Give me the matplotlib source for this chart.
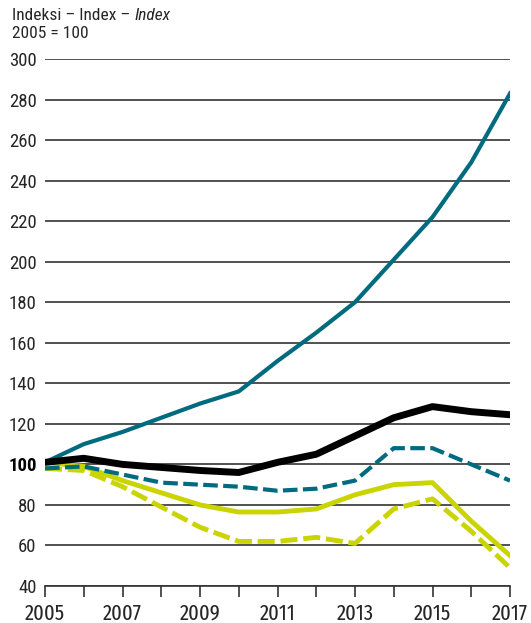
import matplotlib.pyplot as plt

years = list(range(2005, 2018))
teal_solid = [101, 110, 116, 123, 130, 136, 151, 165, 180, 201, 222, 249, 283]
black_solid = [101, 103, 100, 98.5, 97, 96, 101, 105, 114, 123, 128.5, 126, 124.5]
teal_dashed = [98, 99, 95, 91, 90, 89, 87, 88, 92, 108, 108, 100, 92]
yellow_solid = [101, 99, 92, 86, 80, 76.5, 76.5, 78, 85, 90, 91, 72, 55]
yellow_dashed = [98, 97, 89, 79, 69, 62, 62, 64, 61, 78, 83, 67, 49]

y_ticks = list(range(40, 301, 20))
x_labels = list(range(2005, 2018, 2))

TEAL = "#006b7f"
YELLOW = "#c9d400"
TEXT = "#262626"

plt.rcParams["font.family"] = ["Roboto Condensed", "DejaVu Sans"]

fig = plt.figure(figsize=(5.31, 6.23), dpi=100)
ax = fig.add_axes([45 / 531, 1 - 586 / 623, 465 / 531, (586 - 59) / 623])

for y in y_ticks:
    ax.axhline(y, color="#333333", lw=1.2, zorder=1)

ax.plot(years, yellow_dashed, color=YELLOW, lw=3.5, ls=(0, (3.5, 1.2)), zorder=3)
ax.plot(years, yellow_solid, color=YELLOW, lw=3.5, zorder=3)
ax.plot(years, teal_dashed, color=TEAL, lw=3, ls=(0, (3.5, 1.3)), zorder=4)
ax.plot(years, teal_solid, color=TEAL, lw=3, zorder=4)
ax.plot(years, black_solid, color="black", lw=5, zorder=5)

ax.set_xlim(2005, 2017)
ax.set_ylim(40, 300)
ax.set_yticks(y_ticks)
ax.set_xticks(years)
ax.set_xticklabels([str(y) if y in x_labels else "" for y in years],
                   family=["Fira Sans Extra Condensed", "Roboto Condensed", "DejaVu Sans"])
for s in ["top", "right", "left"]:
    ax.spines[s].set_visible(False)
ax.spines["bottom"].set_color("#333333")
ax.spines["bottom"].set_linewidth(1.2)
ax.tick_params(axis="y", length=0, pad=6, labelsize=13.5, colors=TEXT)
ax.tick_params(axis="x", length=8, width=1.2, color="#333333", direction="out",
               pad=4, labelsize=16, labelcolor=TEXT)
for lbl in ax.get_yticklabels():
    if lbl.get_text() == "100":
        lbl.set_fontweight("bold")
        lbl.set_color("black")

t = fig.text(12 / 531, 1 - 16 / 623, "Indeksi – Index – ", fontsize=12.5,
             va="center", ha="left", color=TEXT)
fig.text(12 / 531, 1 - 34 / 623, "2005 = 100", fontsize=12.5,
         va="center", ha="left", color=TEXT)
fig.canvas.draw()
bb = t.get_window_extent()
fig.text(bb.x1 / fig.bbox.width, 1 - 16 / 623, "Index", fontsize=12.5,
         style="italic", va="center", ha="left", color=TEXT)

fig.savefig("out.png", dpi=100)
